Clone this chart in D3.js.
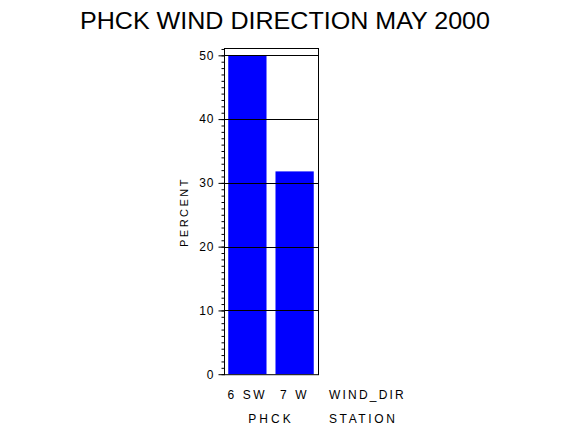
<!DOCTYPE html>
<html><head><meta charset="utf-8">
<script src="https://cdn.jsdelivr.net/npm/d3@7"></script>
<style>body{margin:0;background:#fff}svg{display:block}text{font-family:"Liberation Sans",Arial,sans-serif;fill:#000}</style>
</head><body><svg id="c" width="570" height="430"></svg>
<script>
const title = "PHCK WIND DIRECTION MAY 2000";
const categories = ["6 SW", "7 W"];
const values = [50, 31.8];
const station = "PHCK";
const yTicks = [0, 10, 20, 30, 40, 50];
const yMinor = d3.range(0, 52, 1);

const svg = d3.select("#c");
const L = 224, R = 318, T = 48, B = 374.2;
const x = d3.scaleBand().domain(categories).range([L, R]).paddingInner(0.19).paddingOuter(0.09);
const y = d3.scaleLinear().domain([0, 51.15]).range([B, T]);

svg.append("text").attr("x", 285).attr("y", 29).attr("text-anchor", "middle")
  .attr("font-size", 24).attr("textLength", 410).attr("lengthAdjust", "spacingAndGlyphs").text(title);

svg.selectAll("rect.bar").data(values).join("rect").attr("class", "bar")
  .attr("x", (d, i) => x(categories[i])).attr("width", x.bandwidth())
  .attr("y", d => y(d)).attr("height", d => B - y(d)).attr("fill", "#0000ff");

svg.selectAll("line.grid").data(yTicks.filter(d => d > 0)).join("line").attr("class", "grid")
  .attr("x1", L).attr("x2", R).attr("y1", d => Math.round(y(d)) + 0.5).attr("y2", d => Math.round(y(d)) + 0.5)
  .attr("stroke", "#000").attr("stroke-width", 1);

svg.append("rect").attr("x", L + 0.5).attr("y", T + 0.5).attr("width", R - L).attr("height", B - T)
  .attr("fill", "none").attr("stroke", "#000").attr("stroke-width", 1);

const yAxis = d3.axisLeft(y).tickValues(yMinor).tickSize(3).tickFormat("");
const ga = svg.append("g").attr("transform", `translate(${L + 0.5},0)`).call(yAxis);
ga.select(".domain").remove();
ga.selectAll(".tick line").attr("stroke", "#000");
const yAxis2 = d3.axisLeft(y).tickValues(yTicks).tickSize(6).tickPadding(4);
const gb = svg.append("g").attr("transform", `translate(${L + 0.5},0)`).call(yAxis2);
gb.select(".domain").remove();
gb.selectAll(".tick line").attr("stroke", "#000");
gb.selectAll(".tick text").attr("font-size", 12).attr("font-family", "Liberation Sans, Arial, sans-serif")
  .attr("letter-spacing", "1px").attr("fill", "#000");

svg.append("text").attr("transform", "translate(188,212) rotate(-90)").attr("text-anchor", "middle")
  .attr("font-size", 11).attr("letter-spacing", "2.5px").text("PERCENT");

svg.selectAll("text.cat").data(categories).join("text").attr("class", "cat")
  .attr("x", d => x(d) + x.bandwidth() / 2).attr("y", 399).attr("text-anchor", "middle")
  .attr("font-size", 12).attr("letter-spacing", "2.6px").text(d => d);
svg.append("text").attr("x", 329).attr("y", 399).attr("font-size", 12).attr("letter-spacing", "2.2px").text("WIND_DIR");
svg.append("text").attr("x", (x(categories[0]) + x(categories[1]) + x.bandwidth()) / 2).attr("y", 423)
  .attr("text-anchor", "middle").attr("font-size", 12).attr("letter-spacing", "3px").text(station);
svg.append("text").attr("x", 329).attr("y", 423).attr("font-size", 12).attr("letter-spacing", "2.6px").text("STATION");
</script></body></html>
